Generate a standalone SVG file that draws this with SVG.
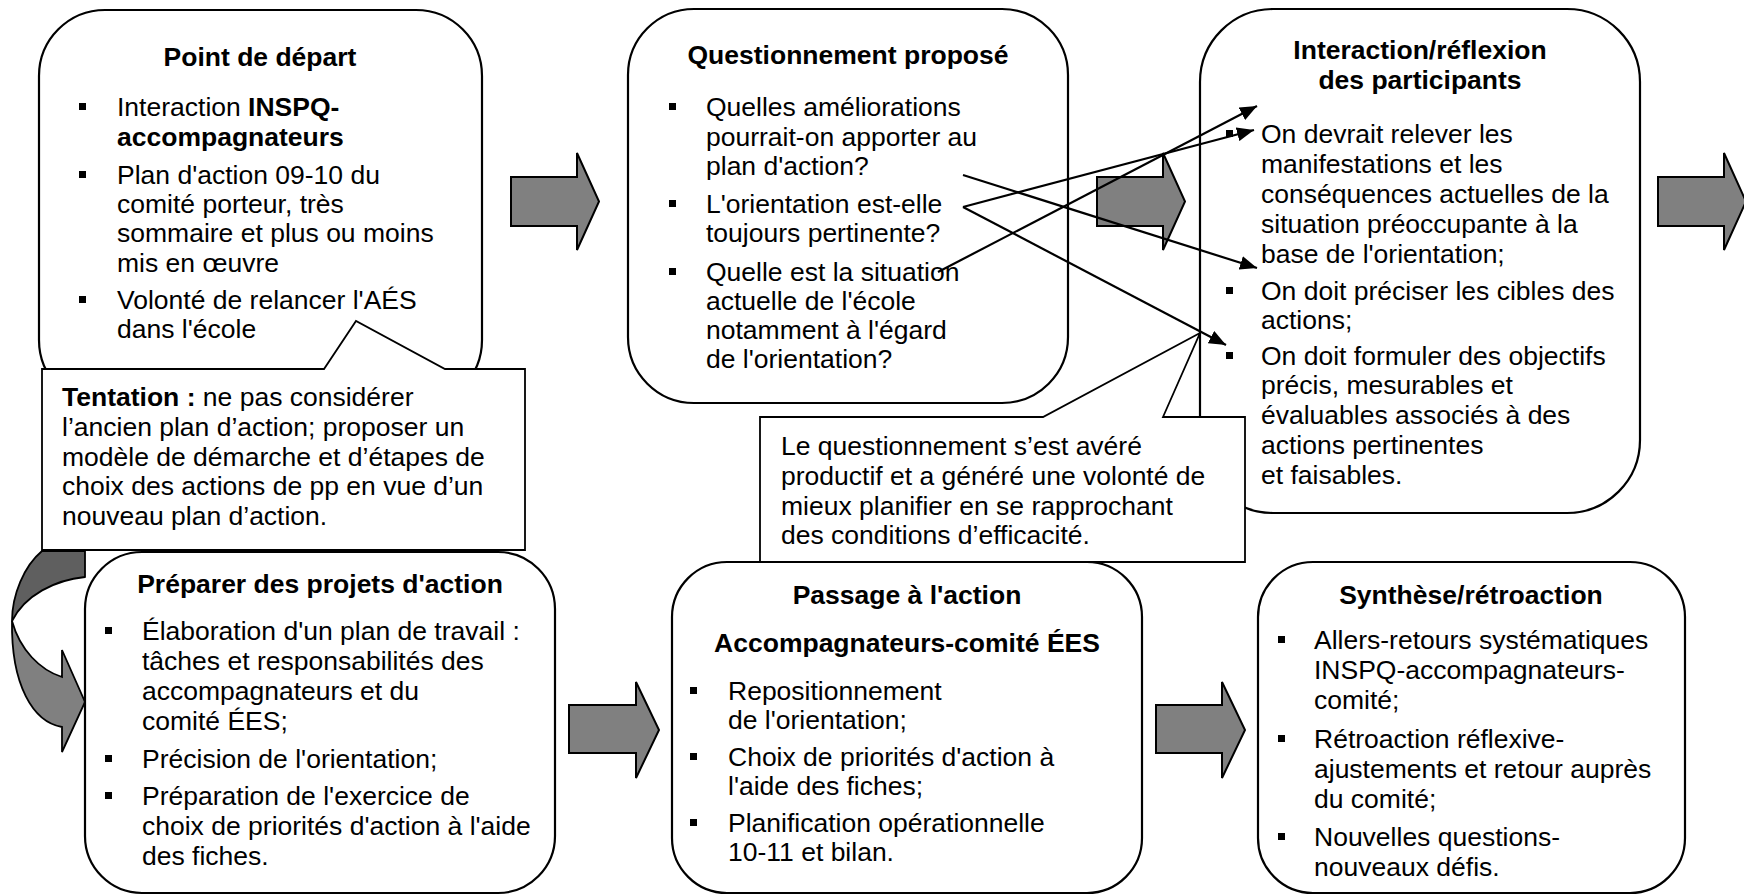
<svg xmlns="http://www.w3.org/2000/svg" width="1744" height="896" viewBox="0 0 1744 896">
  <style>
    text { font-family: "Liberation Sans", Arial, sans-serif; font-size: 26.5px; fill: #000; }
    .title { font-weight: bold; text-anchor: middle; }
    .b { font-weight: bold; }
    .box { fill: #fff; stroke: #000; stroke-width: 2.2; }
    .callout { fill: #fff; stroke: #000; stroke-width: 1.8; }
    .blk { fill: #808080; stroke: #000; stroke-width: 2; stroke-linejoin: miter; }
    .bul { fill: #000; }
    .link { fill: none; stroke: #000; stroke-width: 2.2; marker-end: url(#head); }
  </style>
  <defs>
    <marker id="head" markerUnits="userSpaceOnUse" markerWidth="18" markerHeight="14" refX="17" refY="7" orient="auto">
      <path d="M0,0 L17,7 L0,14 Z" fill="#000"/>
    </marker>
    <rect id="sq" width="7" height="7"/>
  </defs>

  <rect width="1744" height="896" fill="#fff"/>

  <!-- block arrows between the stages -->
  <g id="block-arrows">
    <path class="blk" d="M511,177 H577 V153 L599,201.5 L577,250 V226 H511 Z"/>
    <path class="blk" d="M1097,177 H1163 V153 L1185,201.5 L1163,250 V226 H1097 Z"/>
    <path class="blk" d="M1658,177 H1724 V153 L1746,201.5 L1724,250 V226 H1658 Z"/>
    <path class="blk" d="M569,705 H636 V682 L659,730 L636,778 V753 H569 Z"/>
    <path class="blk" d="M1156,705 H1222 V682 L1245,730 L1222,778 V753 H1156 Z"/>
  </g>

  <!-- curved arrow leading down into "Préparer des projets d'action" -->
  <g id="curved-arrow">
    <path d="M42,551 L85,551 L85,577 C55,580 25,595 12,621 C12,595 24,566 42,551 Z" fill="#5f5f5f" stroke="#000" stroke-width="1.8" stroke-linejoin="round"/>
    <path d="M12,621 C20,650 40,670 62,677 L62,650 L85,702 L62,752 L62,727 C33,722 11,685 12,621 Z" fill="#808080" stroke="#000" stroke-width="1.8" stroke-linejoin="miter"/>
  </g>

  <!-- Point de départ -->
  <g id="node-depart">
    <rect class="box" x="39" y="10" width="443" height="396" rx="66" ry="66"/>
    <text class="title" x="260" y="66">Point de départ</text>
    <use href="#sq" class="bul" x="79" y="103"/>
    <text x="117" y="116">Interaction <tspan class="b">INSPQ-</tspan></text>
    <text class="b" x="117" y="146">accompagnateurs</text>
    <use href="#sq" class="bul" x="79" y="171"/>
    <text x="117" y="184">Plan d'action 09-10 du</text>
    <text x="117" y="213">comité porteur, très</text>
    <text x="117" y="242">sommaire et plus ou moins</text>
    <text x="117" y="272">mis en œuvre</text>
    <use href="#sq" class="bul" x="79" y="296"/>
    <text x="117" y="309">Volonté de relancer l'AÉS</text>
    <text x="117" y="338">dans l'école</text>
  </g>

  <!-- Questionnement proposé -->
  <g id="node-questionnement">
    <rect class="box" x="628" y="9" width="440" height="394" rx="66" ry="66"/>
    <text class="title" x="848" y="64">Questionnement proposé</text>
    <use href="#sq" class="bul" x="669" y="103"/>
    <text x="706" y="116">Quelles améliorations</text>
    <text x="706" y="146">pourrait-on apporter au</text>
    <text x="706" y="175">plan d'action?</text>
    <use href="#sq" class="bul" x="669" y="200"/>
    <text x="706" y="213">L'orientation est-elle</text>
    <text x="706" y="242">toujours pertinente?</text>
    <use href="#sq" class="bul" x="669" y="268"/>
    <text x="706" y="281">Quelle est la situation</text>
    <text x="706" y="310">actuelle de l'école</text>
    <text x="706" y="339">notamment à l'égard</text>
    <text x="706" y="368">de l'orientation?</text>
  </g>

  <!-- Interaction/réflexion des participants -->
  <g id="node-interaction">
    <rect class="box" x="1200" y="9" width="440" height="504" rx="73" ry="73"/>
    <text class="title" x="1420" y="59">Interaction/réflexion</text>
    <text class="title" x="1420" y="89">des participants</text>
    <use href="#sq" class="bul" x="1226" y="130"/>
    <text x="1261" y="143">On devrait relever les</text>
    <text x="1261" y="173">manifestations et les</text>
    <text x="1261" y="203">conséquences actuelles de la</text>
    <text x="1261" y="233">situation préoccupante à la</text>
    <text x="1261" y="263">base de l'orientation;</text>
    <use href="#sq" class="bul" x="1226" y="287"/>
    <text x="1261" y="300">On doit préciser les cibles des</text>
    <text x="1261" y="329">actions;</text>
    <use href="#sq" class="bul" x="1226" y="352"/>
    <text x="1261" y="365">On doit formuler des objectifs</text>
    <text x="1261" y="394">précis, mesurables et</text>
    <text x="1261" y="424">évaluables associés à des</text>
    <text x="1261" y="454">actions pertinentes</text>
    <text x="1261" y="484">et faisables.</text>
  </g>

  <!-- links from the questions to the participants' reflections -->
  <g id="connectors">
    <path class="link" d="M963,175 L1257,268"/>
    <path class="link" d="M963,207 L1254,130"/>
    <path class="link" d="M963,207 L1226,345"/>
    <path class="link" d="M938,272 L1257,106"/>
  </g>

  <!-- Tentation callout -->
  <g id="callout-tentation">
    <path class="callout" d="M42,369 L324,369 L356,321 L445,369 L525,369 L525,550 L42,550 Z"/>
    <text x="62" y="406"><tspan class="b">Tentation :</tspan> ne pas considérer</text>
    <text x="62" y="436">l’ancien plan d’action; proposer un</text>
    <text x="62" y="466">modèle de démarche et d’étapes de</text>
    <text x="62" y="495">choix des actions de pp en vue d’un</text>
    <text x="62" y="525">nouveau plan d’action.</text>
  </g>

  <!-- questioning outcome callout -->
  <g id="callout-questionnement">
    <path class="callout" d="M760,417 L1043,417 L1200,333 L1163,417 L1245,417 L1245,562 L760,562 Z"/>
    <text x="781" y="455">Le questionnement s’est avéré</text>
    <text x="781" y="485">productif et a généré une volonté de</text>
    <text x="781" y="515">mieux planifier en se rapprochant</text>
    <text x="781" y="544">des conditions d’efficacité.</text>
  </g>

  <!-- Préparer des projets d'action -->
  <g id="node-preparer">
    <rect class="box" x="85" y="552" width="470" height="341" rx="57" ry="57"/>
    <text class="title" x="320" y="593">Préparer des projets d'action</text>
    <use href="#sq" class="bul" x="105" y="627"/>
    <text x="142" y="640">Élaboration d'un plan de travail :</text>
    <text x="142" y="670">tâches et responsabilités des</text>
    <text x="142" y="700">accompagnateurs et du</text>
    <text x="142" y="730">comité ÉES;</text>
    <use href="#sq" class="bul" x="105" y="755"/>
    <text x="142" y="768">Précision de l'orientation;</text>
    <use href="#sq" class="bul" x="105" y="792"/>
    <text x="142" y="805">Préparation de l'exercice de</text>
    <text x="142" y="835">choix de priorités d'action à l'aide</text>
    <text x="142" y="865">des fiches.</text>
  </g>

  <!-- Passage à l'action -->
  <g id="node-passage">
    <rect class="box" x="672" y="562" width="470" height="331" rx="55" ry="55"/>
    <text class="title" x="907" y="604">Passage à l'action</text>
    <text class="title" x="907" y="652">Accompagnateurs-comité ÉES</text>
    <use href="#sq" class="bul" x="690" y="687"/>
    <text x="728" y="700">Repositionnement</text>
    <text x="728" y="729">de l'orientation;</text>
    <use href="#sq" class="bul" x="690" y="753"/>
    <text x="728" y="766">Choix de priorités d'action à</text>
    <text x="728" y="795">l'aide des fiches;</text>
    <use href="#sq" class="bul" x="690" y="819"/>
    <text x="728" y="832">Planification opérationnelle</text>
    <text x="728" y="861">10-11 et bilan.</text>
  </g>

  <!-- Synthèse/rétroaction -->
  <g id="node-synthese">
    <rect class="box" x="1258" y="562" width="427" height="331" rx="55" ry="55"/>
    <text class="title" x="1471" y="604">Synthèse/rétroaction</text>
    <use href="#sq" class="bul" x="1278" y="636"/>
    <text x="1314" y="649">Allers-retours systématiques</text>
    <text x="1314" y="679">INSPQ-accompagnateurs-</text>
    <text x="1314" y="709">comité;</text>
    <use href="#sq" class="bul" x="1278" y="735"/>
    <text x="1314" y="748">Rétroaction réflexive-</text>
    <text x="1314" y="778">ajustements et retour auprès</text>
    <text x="1314" y="808">du comité;</text>
    <use href="#sq" class="bul" x="1278" y="833"/>
    <text x="1314" y="846">Nouvelles questions-</text>
    <text x="1314" y="876">nouveaux défis.</text>
  </g>
</svg>
